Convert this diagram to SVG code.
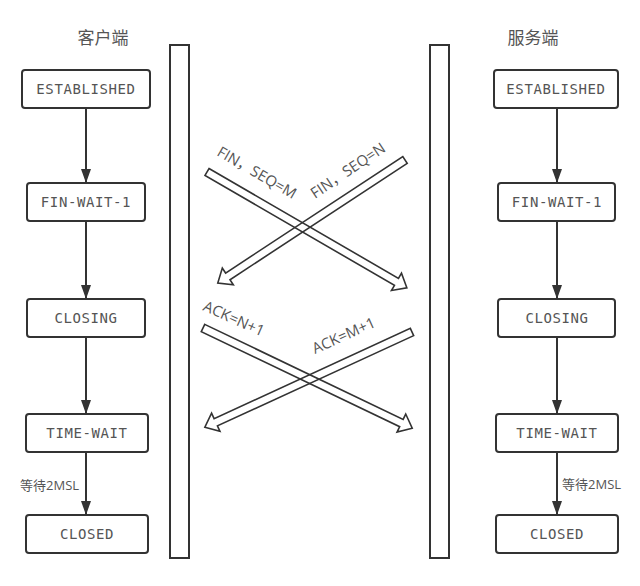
<svg xmlns="http://www.w3.org/2000/svg" width="640" height="586" viewBox="0 0 640 586">
<style>
.box{fill:#fff;stroke:#333;stroke-width:2}
.st{font-family:"DejaVu Sans Mono","Liberation Mono",monospace;font-size:14px;letter-spacing:0.6px;fill:#555;text-anchor:middle}
.title{font-family:"Open Sans","Noto Sans CJK SC",sans-serif;font-size:17px;fill:#555;text-anchor:middle}
.note{font-family:"Open Sans","Noto Sans CJK SC",sans-serif;font-size:13px;fill:#555}
.lbl{font-family:"Open Sans","Noto Sans CJK SC",sans-serif;font-size:15px;fill:#555}
.bar{fill:#fff;stroke:#333;stroke-width:2}
.conn{stroke:#333;stroke-width:2;fill:none;marker-end:url(#ah)}
.blk{fill:none;stroke:#333;stroke-width:1.6;stroke-linejoin:miter}
</style>
<defs>
<marker id="ah" markerUnits="userSpaceOnUse" markerWidth="14" markerHeight="10" refX="14" refY="5" orient="auto">
<path d="M0,0 L14,5 L0,10 z" fill="#333"/>
</marker>
</defs>
<rect width="640" height="586" fill="#fff"/>

<text class="title" x="103" y="44">客户端</text>
<text class="title" x="533" y="44">服务端</text>

<g id="client-bar"><rect class="bar" x="170" y="45" width="19" height="513"/></g>
<g id="server-bar"><rect class="bar" x="430" y="45" width="19" height="513"/></g>

<g id="c-established"><rect class="box" x="22" y="70" width="128" height="38" rx="3"/><text class="st" x="86" y="94">ESTABLISHED</text></g>
<g id="c-finwait1"><rect class="box" x="27" y="183" width="118" height="38" rx="3"/><text class="st" x="86" y="207">FIN-WAIT-1</text></g>
<g id="c-closing"><rect class="box" x="27" y="299" width="118" height="38" rx="3"/><text class="st" x="86" y="323">CLOSING</text></g>
<g id="c-timewait"><rect class="box" x="26" y="414" width="122" height="38" rx="3"/><text class="st" x="87" y="438">TIME-WAIT</text></g>
<g id="c-closed"><rect class="box" x="26" y="515" width="122" height="38" rx="3"/><text class="st" x="87" y="539">CLOSED</text></g>

<g id="s-established"><rect class="box" x="494" y="70" width="124" height="38" rx="3"/><text class="st" x="556" y="94">ESTABLISHED</text></g>
<g id="s-finwait1"><rect class="box" x="498" y="183" width="117" height="38" rx="3"/><text class="st" x="557" y="207">FIN-WAIT-1</text></g>
<g id="s-closing"><rect class="box" x="498" y="299" width="117" height="38" rx="3"/><text class="st" x="557" y="323">CLOSING</text></g>
<g id="s-timewait"><rect class="box" x="496" y="414" width="122" height="38" rx="3"/><text class="st" x="557" y="438">TIME-WAIT</text></g>
<g id="s-closed"><rect class="box" x="496" y="515" width="122" height="38" rx="3"/><text class="st" x="557" y="539">CLOSED</text></g>

<g id="connectors">
<line class="conn" x1="86" y1="108" x2="86" y2="183"/>
<line class="conn" x1="86" y1="221" x2="86" y2="299"/>
<line class="conn" x1="86" y1="337" x2="86" y2="414"/>
<line class="conn" x1="86" y1="452" x2="86" y2="515"/>
<line class="conn" x1="557" y1="108" x2="557" y2="183"/>
<line class="conn" x1="557" y1="221" x2="557" y2="299"/>
<line class="conn" x1="557" y1="337" x2="557" y2="414"/>
<line class="conn" x1="557" y1="452" x2="557" y2="515"/>
<polygon class="blk" transform="translate(207,172) rotate(30.1)" points="0,-4 219,-4 219,-10 231,0 219,10 219,4 0,4"/>
<polygon class="blk" transform="translate(405,160) rotate(146.7)" points="0,-4 212,-4 212,-10 224,0 212,10 212,4 0,4"/>
<polygon class="blk" transform="translate(203,328) rotate(25.6)" points="0,-4 220,-4 220,-10 232,0 220,10 220,4 0,4"/>
<polygon class="blk" transform="translate(412,332) rotate(155.3)" points="0,-4 216,-4 216,-10 228,0 216,10 216,4 0,4"/>
<text class="lbl" transform="translate(216,155) rotate(30)">FIN，SEQ=M</text>
<text class="lbl" transform="translate(315,199) rotate(-34)">FIN，SEQ=N</text>
<text class="lbl" transform="translate(202,310) rotate(24)">ACK=N+1</text>
<text class="lbl" transform="translate(315,354) rotate(-24)">ACK=M+1</text>
<text class="note" x="20" y="490">等待2MSL</text>
<text class="note" x="562" y="489">等待2MSL</text>
</g>
</svg>
